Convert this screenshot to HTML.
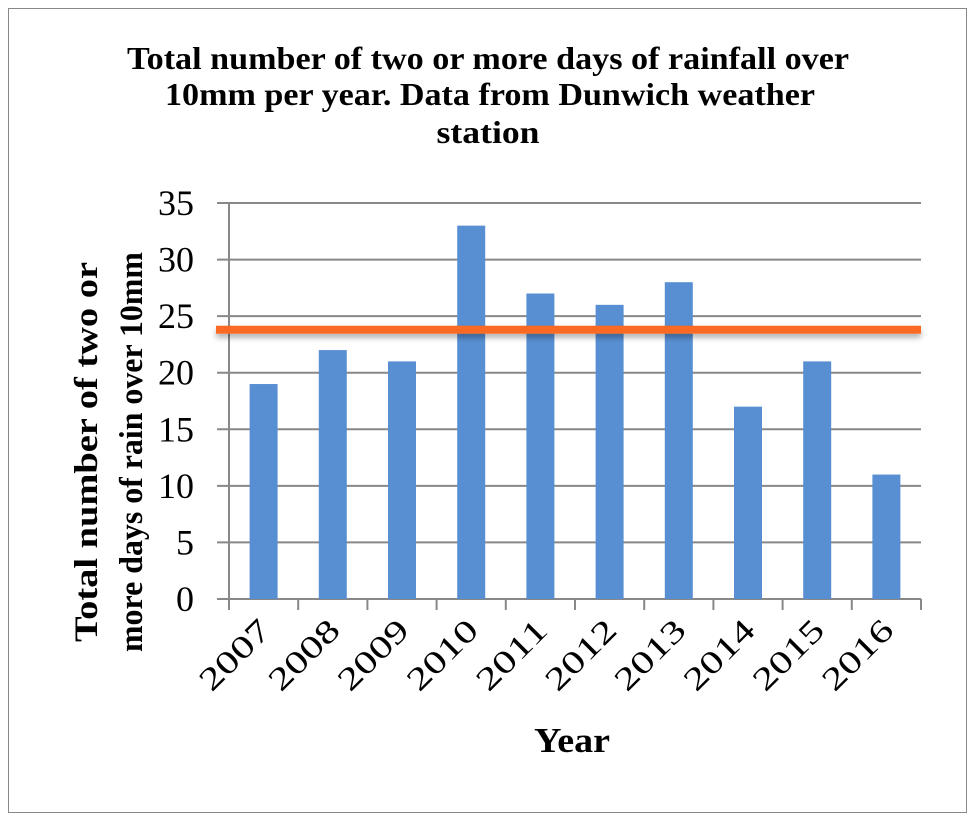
<!DOCTYPE html>
<html><head><meta charset="utf-8"><style>
body{margin:0;background:#fff}
svg{display:block;font-family:"Liberation Serif",serif}
</style></head><body>
<svg width="976" height="822">
<defs><filter id="sh" filterUnits="userSpaceOnUse" x="0" y="0" width="976" height="822"><feDropShadow dx="0" dy="4" stdDeviation="3" flood-color="#000" flood-opacity="0.3"/></filter></defs>
<rect x="8.5" y="8.5" width="958" height="804" fill="#fff" stroke="#888"/>
<text text-anchor="middle" font-size="32" font-weight="bold"><tspan x="488" y="69" textLength="722" lengthAdjust="spacingAndGlyphs">Total number of two or more days of rainfall over</tspan><tspan x="490" y="105" textLength="650" lengthAdjust="spacingAndGlyphs">10mm per year. Data from Dunwich weather</tspan><tspan x="488" y="143" textLength="103" lengthAdjust="spacingAndGlyphs">station</tspan></text>
<g id="grid"></g><g id="bars"></g><g id="axes"></g>
<text transform="translate(97,452) rotate(-90)" text-anchor="middle" font-size="33" font-weight="bold"><tspan x="0" y="0" textLength="380" lengthAdjust="spacingAndGlyphs">Total number of two or</tspan><tspan x="0" y="45" textLength="400" lengthAdjust="spacingAndGlyphs">more days of rain over 10mm</tspan></text>
<text x="572" y="752" text-anchor="middle" font-size="35" font-weight="bold" textLength="76" lengthAdjust="spacingAndGlyphs">Year</text>
</svg>
<script>
const categories=["2007","2008","2009","2010","2011","2012","2013","2014","2015","2016"];
const values=[19,22,21,33,27,26,28,17,21,11];
const yTicks=[0,5,10,15,20,25,30,35];
const average=[23.8];
const NS="http://www.w3.org/2000/svg";
const x0=229,x1=921,yb=599,yt=203,ymax=35;
const step=(x1-x0)/categories.length;
const y=v=>yb-(yb-yt)*v/ymax;
function mk(t,a,p){const e=document.createElementNS(NS,t);for(const k in a)e.setAttribute(k,a[k]);p.appendChild(e);return e;}
const g=document.getElementById('grid'),b=document.getElementById('bars'),ax=document.getElementById('axes');
yTicks.forEach(v=>{
 const l=mk('line',{x1:217,x2:x1,y1:y(v),y2:y(v),stroke:'#888','stroke-width':2},g);
 
 
 const t=mk('text',{x:194,y:y(v)+12,'text-anchor':'end','font-size':36},g);
 t.textContent=v;
 
 
});
categories.forEach((c,i)=>{
 const cx=x0+step*(i+0.5);
 const r=mk('rect',{x:cx-14,y:y(values[i]),width:28,height:yb-y(values[i]),fill:'#588fd3'},b);
 
 
 const tk=mk('line',{x1:x0+step*i,x2:x0+step*i,y1:yb,y2:yb+11,stroke:'#888','stroke-width':2},ax);
 
 
 const t=mk('text',{x:0,y:0,'text-anchor':'end','font-size':32,textLength:86,lengthAdjust:'spacingAndGlyphs',transform:`translate(${cx+9},${yb+33}) rotate(-45)`},ax);
 t.textContent=c;
 
 
});
const tk=mk('line',{x1:x1,x2:x1,y1:yb,y2:yb+11,stroke:'#888','stroke-width':2},ax);


const va=mk('line',{x1:x0,x2:x0,y1:yt,y2:yb+11,stroke:'#888','stroke-width':2},ax);


const av=mk('rect',{x:216,width:x1-216,y:y(average[0])-4,height:8,fill:'#fb6a22',filter:'url(#sh)'},ax);


</script>
</body></html>
